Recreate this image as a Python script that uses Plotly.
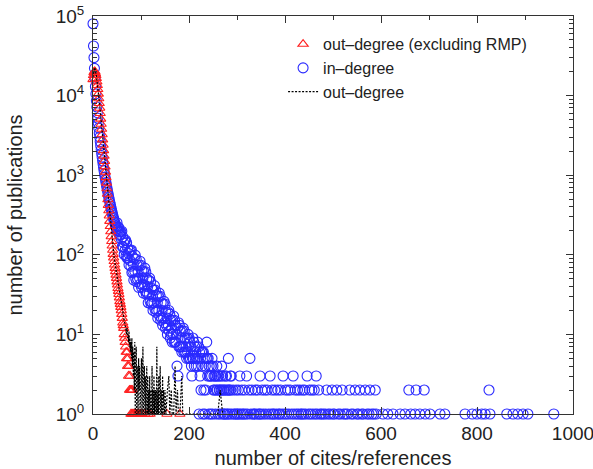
import plotly.graph_objects as go

# ---------------- data ----------------
# in-degree: counts for degrees 0..289 (index = degree)
in_counts = [
    80000, 42000, 30000, 22000, 16500, 13000, 10500, 8600, 7200, 6100,
    5200, 4500, 3900, 3400, 3000, 2650, 2350, 2100, 1880, 1690,
    1520, 1380, 1250, 1140, 1040, 950, 880, 810, 750, 695,
    645, 600, 560, 522, 488, 456, 428, 402, 378, 356,
    336, 318, 300, 285, 270, 257, 244, 233, 222, 212,
    253, 204, 226, 198, 217, 176, 195, 178, 194, 158,
    198, 127, 168, 125, 141, 101, 151, 114, 153, 97,
    142, 91, 121, 91, 104, 75, 112, 85, 114, 72,
    115, 60, 96, 62, 76, 48, 90, 62, 99, 50,
    88, 46, 74, 50, 61, 39, 74, 51, 83, 43,
    74, 39, 63, 42, 51, 33, 61, 42, 68, 35,
    61, 32, 50, 33, 40, 25, 48, 32, 51, 26,
    46, 24, 38, 25, 30, 20, 36, 25, 41, 21,
    36, 19, 31, 20, 25, 16, 30, 20, 33, 17,
    30, 15, 25, 16, 20, 13, 24, 16, 26, 14,
    24, 12, 19, 13, 16, 10, 19, 13, 20, 11,
    18, 9, 15, 10, 12, 8, 15, 10, 17, 8,
    15, 8, 13, 8, 10, 4, 12, 3, 14, 7,
    13, 7, 11, 7, 9, 6, 11, 7, 12, 6,
    11, 6, 9, 6, 7, 5, 9, 6, 10, 5,
    9, 5, 8, 5, 7, 4, 3, 5, 9, 5,
    8, 4, 7, 5, 6, 4, 7, 5, 8, 4,
    7, 1, 6, 3, 5, 2, 6, 4, 6, 1,
    6, 2, 5, 1, 4, 2, 5, 8, 5, 3,
    5, 1, 4, 3, 3, 1, 4, 3, 5, 1,
    4, 2, 3, 2, 3, 1, 3, 2, 4, 2,
    3, 1, 3, 2, 2, 1, 3, 2, 4, 2,
    3, 1, 2, 1, 2, 1, 3, 2, 3, 1,
    2, 1, 5, 2, 2, 1, 3, 2, 3, 1,
]
# in-degree tail (degrees >= 290)
in_tail_deg = [
    306, 320, 348, 369, 396, 417, 446, 465, 327,
    292, 298, 303, 310, 316, 325, 331, 338, 343, 352, 358, 363, 373, 379, 385,
    391, 401, 406, 411, 421, 426, 431, 437, 441, 451, 456, 461, 470, 487, 498,
    508, 519, 535, 546, 556, 567, 577, 588, 658, 673, 690, 825,
    294, 296, 300, 301, 305, 308, 312, 314, 318, 322, 329, 334, 336, 340, 345,
    347, 350, 355, 360, 366, 371, 375, 377, 382, 387, 389, 394, 399, 403, 408,
    414, 419, 424, 428, 433, 435, 439, 443, 449, 453, 458, 463, 467, 473, 476,
    480, 484, 490, 494, 500, 503, 511, 515, 522, 526, 530, 538, 542, 550, 553,
    560, 563, 571, 575, 581, 585, 590, 604, 614, 625, 640, 650, 662, 671, 681,
    692, 702, 723, 733, 775, 790, 800, 810, 817, 827, 862, 875, 885, 896, 906, 960,
]
in_tail_count = [
    3, 3, 3, 3, 3, 3, 3, 3, 5,
    2, 2, 2, 2, 2, 2, 2, 2, 2, 2, 2, 2, 2, 2, 2,
    2, 2, 2, 2, 2, 2, 2, 2, 2, 2, 2, 2, 2, 2, 2,
    2, 2, 2, 2, 2, 2, 2, 2, 2, 2, 2, 2,
    1, 1, 1, 1, 1, 1, 1, 1, 1, 1, 1, 1, 1, 1, 1,
    1, 1, 1, 1, 1, 1, 1, 1, 1, 1, 1, 1, 1, 1, 1,
    1, 1, 1, 1, 1, 1, 1, 1, 1, 1, 1, 1, 1, 1, 1,
    1, 1, 1, 1, 1, 1, 1, 1, 1, 1, 1, 1, 1, 1, 1,
    1, 1, 1, 1, 1, 1, 1, 1, 1, 1, 1, 1, 1, 1, 1,
    1, 1, 1, 1, 1, 1, 1, 1, 1, 1, 1, 1, 1, 1, 1, 1,
]

# out-degree excluding RMP: counts for degrees 0..84, then tail
out_excl_counts = [
    16000, 18000, 19500, 20000, 20000, 19000, 18000, 16500, 15000, 13500,
    12000, 10500, 9200, 8000, 7000, 6000, 5100, 4400, 3800, 3250,
    2800, 2400, 2050, 1750, 1500, 1280, 1100, 940, 800, 680,
    580, 495, 420, 360, 310, 265, 228, 196, 170, 148,
    130, 115, 102, 92, 83, 75, 68, 62, 56, 51,
    46, 42, 38, 35, 32, 29, 26, 24, 22, 20,
    18, 16, 14, 13, 12, 10, 9, 8, 7, 6,
    5, 6, 4, 5, 3, 4, 2, 3, 2, 1,
    2, 1, 2, 1, 1,
]
out_excl_tail_deg = [86, 88, 91, 94, 98, 102, 108, 115, 119, 154, 181]
out_excl_tail_count = [1, 1, 1, 1, 1, 1, 1, 1, 1, 1, 1]

# out-degree (all): counts for degrees 0..150, then tail
out_counts = [
    17000, 20000, 22000, 22500, 22000, 21000, 19500, 17800, 16000, 14500,
    13000, 11500, 10000, 8700, 7600, 6500, 5600, 4800, 4100, 3500,
    3000, 2600, 2200, 1900, 1620, 1380, 1180, 1010, 860, 735,
    630, 540, 460, 395, 340, 292, 252, 218, 190, 166,
    146, 129, 115, 103, 93, 84, 76, 70, 64, 58,
    53, 49, 45, 41, 38, 35, 32, 30, 27, 25,
    23, 21, 19, 18, 16, 15, 14, 12, 13, 11,
    10, 12, 9, 10, 8, 11, 7, 9, 6, 8,
    5, 9, 4, 7, 3, 6, 2, 8, 1, 5,
    7, 1, 4, 3, 1, 5, 2, 4, 1, 3,
    2, 5, 1, 3, 7, 1, 2, 4, 1, 3,
    1, 2, 4, 1, 3, 1, 2, 1, 3, 1,
    2, 1, 1, 4, 1, 2, 1, 3, 1, 2,
    1, 2, 1, 7, 1, 2, 1, 3, 1, 2,
    4, 1, 2, 1, 1, 3, 1, 2, 1, 1, 2,
]
out_tail_deg = [152, 155, 158, 160, 163, 165, 168, 171, 173, 176, 178, 181, 185,
                187, 190, 200, 215, 230, 245, 260, 265, 270]
out_tail_count = [1, 2, 3, 1, 2, 1, 1, 4, 1, 2, 1, 1, 3,
                  1, 1, 1, 1, 1, 1, 1, 2, 1]

x_tick_vals = [0, 200, 400, 600, 800, 1000]
y_tick_vals = [1, 10, 100, 1000, 10000, 100000]
y_tick_text = ["10<sup>0</sup>", "10<sup>1</sup>", "10<sup>2</sup>",
               "10<sup>3</sup>", "10<sup>4</sup>", "10<sup>5</sup>"]

# ---------------- build ----------------
in_x = list(range(len(in_counts))) + in_tail_deg
in_y = in_counts + in_tail_count
oe_x = list(range(len(out_excl_counts))) + out_excl_tail_deg
oe_y = out_excl_counts + out_excl_tail_count
o_x = list(range(len(out_counts))) + out_tail_deg
o_y = out_counts + out_tail_count

FONT = "Liberation Sans, Arial, Helvetica, sans-serif"
AX = "#333333"

fig = go.Figure()
fig.add_trace(go.Scatter(
    x=in_x, y=in_y, mode="markers", name="in\u2013degree", legendrank=2,
    marker=dict(symbol="circle-open", size=10, color="#2a2aff", line=dict(width=1.1)),
    cliponaxis=False,
))
fig.add_trace(go.Scatter(
    x=oe_x, y=oe_y, mode="markers", name="out\u2013degree (excluding RMP)", legendrank=1,
    marker=dict(symbol="triangle-up-open", size=9, color="#ff2020", line=dict(width=1.1)),
    cliponaxis=False,
))
fig.add_trace(go.Scatter(
    x=o_x, y=o_y, mode="lines", name="out\u2013degree", legendrank=3,
    line=dict(color="#000000", width=1.2, dash="2px,1.5px"),
    cliponaxis=False,
))

minor_log = [m * 10 ** k for k in range(0, 5) for m in range(2, 10)]

fig.update_layout(
    width=593, height=469,
    margin=dict(l=93, r=20, t=16, b=55, autoexpand=False),
    paper_bgcolor="white", plot_bgcolor="white",
    font=dict(family=FONT, color="#222222", size=19),
    showlegend=True,
    legend=dict(
        x=0.396, y=0.972, xanchor="left", yanchor="top",
        bgcolor="rgba(0,0,0,0)", font=dict(size=16, color="#222222"),
        tracegroupgap=0, itemwidth=30,
    ),
)
fig.update_xaxes(
    range=[0, 1000], tickvals=x_tick_vals, ticks="inside", ticklen=7,
    tickcolor=AX, showline=True, linecolor=AX, linewidth=1, mirror="allticks",
    showgrid=False, zeroline=False, tickfont=dict(size=19),
    ticklabeloverflow="allow", automargin=False, ticklabelstandoff=2,
    minor=dict(tickvals=[100, 300, 500, 700, 900], ticks="inside", ticklen=4, tickcolor=AX),
    title=dict(text="number of cites/references", font=dict(size=20), standoff=8),
)
fig.update_yaxes(
    type="log", range=[0, 5], tickvals=y_tick_vals, ticktext=y_tick_text,
    ticks="inside", ticklen=7, tickcolor=AX, showline=True, linecolor=AX,
    linewidth=1, mirror="allticks", showgrid=False, zeroline=False,
    tickfont=dict(size=19), ticklabeloverflow="allow", automargin=False,
    ticklabelstandoff=4,
    minor=dict(tickvals=minor_log, ticks="inside", ticklen=4, tickcolor=AX),
    title=dict(text="number of publications", font=dict(size=20), standoff=27),
)

# remove the default 8px page margin so the figure sits at the window's corner
fig.write_html(
    "out.html",
    config={"displayModeBar": False},
    post_script="document.body.style.margin='0px';",
)
